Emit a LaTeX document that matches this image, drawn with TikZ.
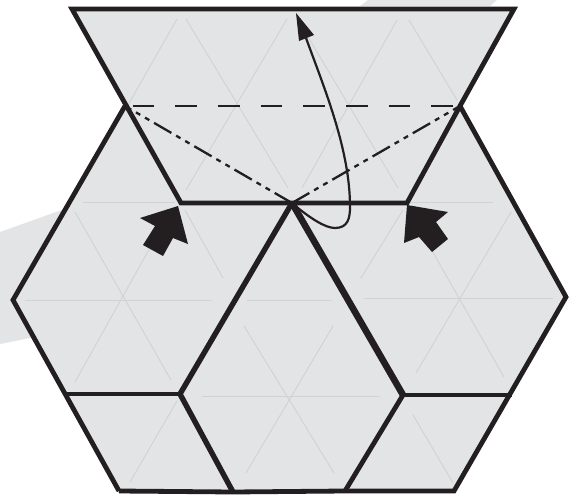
\documentclass[tikz,border=0pt]{standalone}
\definecolor{panel}{HTML}{E3E4E6}
\definecolor{faint}{HTML}{D1D2D4}
\definecolor{ink}{HTML}{231F20}
\tikzset{
  faintline/.style={draw=faint,line width=0.9pt},
  edge/.style={draw=ink,line width=4.8pt,line join=miter},
  dashline/.style={draw=ink,line width=2.3pt,dash pattern=on 21.7pt off 21pt},
  dotline/.style={draw=ink,line width=2.3pt,dash pattern=on 20pt off 5.5pt on 5pt off 5.5pt on 5pt off 5.5pt},
  bigarrow/.style={fill=ink,draw=none}
}
\begin{document}
\begin{tikzpicture}[x=1pt,y=-1pt]
\useasboundingbox (0,0) rectangle (576,495);
% background band pieces
\fill[panel] (0,232) -- (70,207) -- (70,330) -- (0,344) -- cycle;
\fill[panel] (360,6) -- (368,0) -- (497,0) -- (490,6) -- cycle;
% panel
\fill[panel] (72,9) -- (514,9) -- (460,106) -- (566,297) -- (509,395) -- (454,491) -- (119,491) -- (67,393) -- (13,300) -- (125,106) -- cycle;
% faint triangulation
\foreach \a/\b/\c/\d in {
  177/19/128/105, 186/19/288/188, 287/19/186/190, 298/20/398/188, 397/20/302/188, 409/20/457/100,
  83/202/175/202, 410/202/493/202,
  25/300/212/300, 75/382/170/212, 171/380/75/212, 185/210/223/278,
  202/396/380/396, 246/473/333/326, 334/473/244/326, 247/300/332/300,
  364/298/553/298, 416/373/511/212, 504/377/410/212, 361/278/403/210,
  130/482/177/401, 413/415/453/483}
  \draw[faintline] (\a,\b) -- (\c,\d);
% dashed and dash-dot
\coordinate (apex) at (292,203);
\coordinate (tl) at (125,106);
\coordinate (tr) at (460,106);
\draw[dashline] (132.5,106) -- (tr);
\draw[dotline] (apex) -- (tl);
\draw[dotline] (apex) -- (tr);
% outlines
\draw[edge] (119,491) -- (233,492) -- (345,491) -- (454,491) -- (566,297) -- (460,106) -- (407,203) -- (181,203) -- (72,9) -- (514,9) -- (460,106);
\draw[edge] (125,106) -- (13,300) -- (119,491);
\draw[edge] (64,394) -- (180,394);
\draw[edge] (403,395) -- (512,395);
\draw[edge,line width=5.4pt] (292,203) -- (180,394) -- (233,492);
\draw[edge] (403,395) -- (345,491);
\draw[edge,line width=6.6pt] (292,203) -- (403,395);
% curved arrow
\draw[ink,line width=2.2pt] (293,204) .. controls (310,218) and (325,228) .. (335,228)
  .. controls (348,228) and (350,218) .. (350,207)
  .. controls (350,150) and (325,90) .. (306,38);
\fill[ink] (296,13) -- (314,35) -- (299,41) -- cycle;
% big arrows
\fill[bigarrow] (178,206) -- (188,244) -- (173,238) -- (163,256) -- (143,245) -- (155,226) -- (140,218) -- cycle;
\fill[bigarrow] (407,205) -- (448,212) -- (436,222) -- (448,239) -- (432,252) -- (419,237) -- (404,243) -- cycle;
\end{tikzpicture}
\end{document}
